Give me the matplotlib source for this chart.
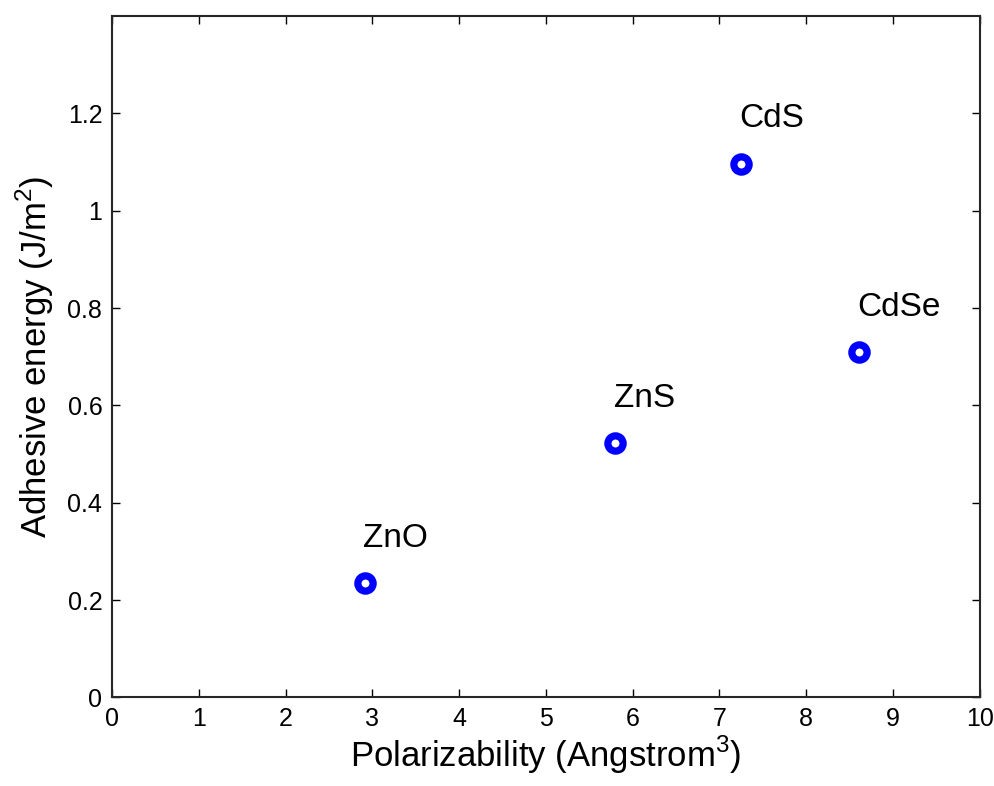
import matplotlib.pyplot as plt

# data
materials = ['ZnO', 'ZnS', 'CdS', 'CdSe']
polarizability = [2.91, 5.80, 7.25, 8.61]
adhesive_energy = [0.236, 0.522, 1.097, 0.709]

plt.rcParams['font.family'] = ['Liberation Sans', 'DejaVu Sans']
plt.rcParams['mathtext.fontset'] = 'custom'
plt.rcParams['mathtext.rm'] = 'Liberation Sans'

fig = plt.figure(figsize=(9.95, 7.86), dpi=100)
ax = fig.add_axes([0.1126, 0.1126, 0.872, 0.867])

ax.plot(polarizability, adhesive_energy, linestyle='none', marker='o',
        markersize=11, markeredgewidth=5.2, markeredgecolor='#0000ff',
        markerfacecolor='white')

# labels start at the point's x, a little above it
for name, x, y in zip(materials, polarizability, adhesive_energy):
    ax.annotate(name, (x, y), xytext=(-1, 26), textcoords='offset points',
                ha='left', va='baseline', fontsize=24)

ax.set_xlim(0, 10)
ax.set_ylim(0, 1.4)
ax.set_xticks(range(0, 11))
ax.set_yticks([0, 0.2, 0.4, 0.6, 0.8, 1.0, 1.2])
ax.set_yticklabels(['0', '0.2', '0.4', '0.6', '0.8', '1', '1.2'])
ax.tick_params(direction='in', top=True, right=True, length=6, width=1,
               labelsize=18, pad=7)
for s in ax.spines.values():
    s.set_linewidth(1.5)
    s.set_color('#262626')

ax.set_xlabel('Polarizability (Angstrom$^\\mathrm{3}$)', fontsize=25, labelpad=2)
ax.set_ylabel('Adhesive energy (J/m$^\\mathrm{2}$)', fontsize=25, labelpad=8)

fig.savefig('out.png', dpi=100)
